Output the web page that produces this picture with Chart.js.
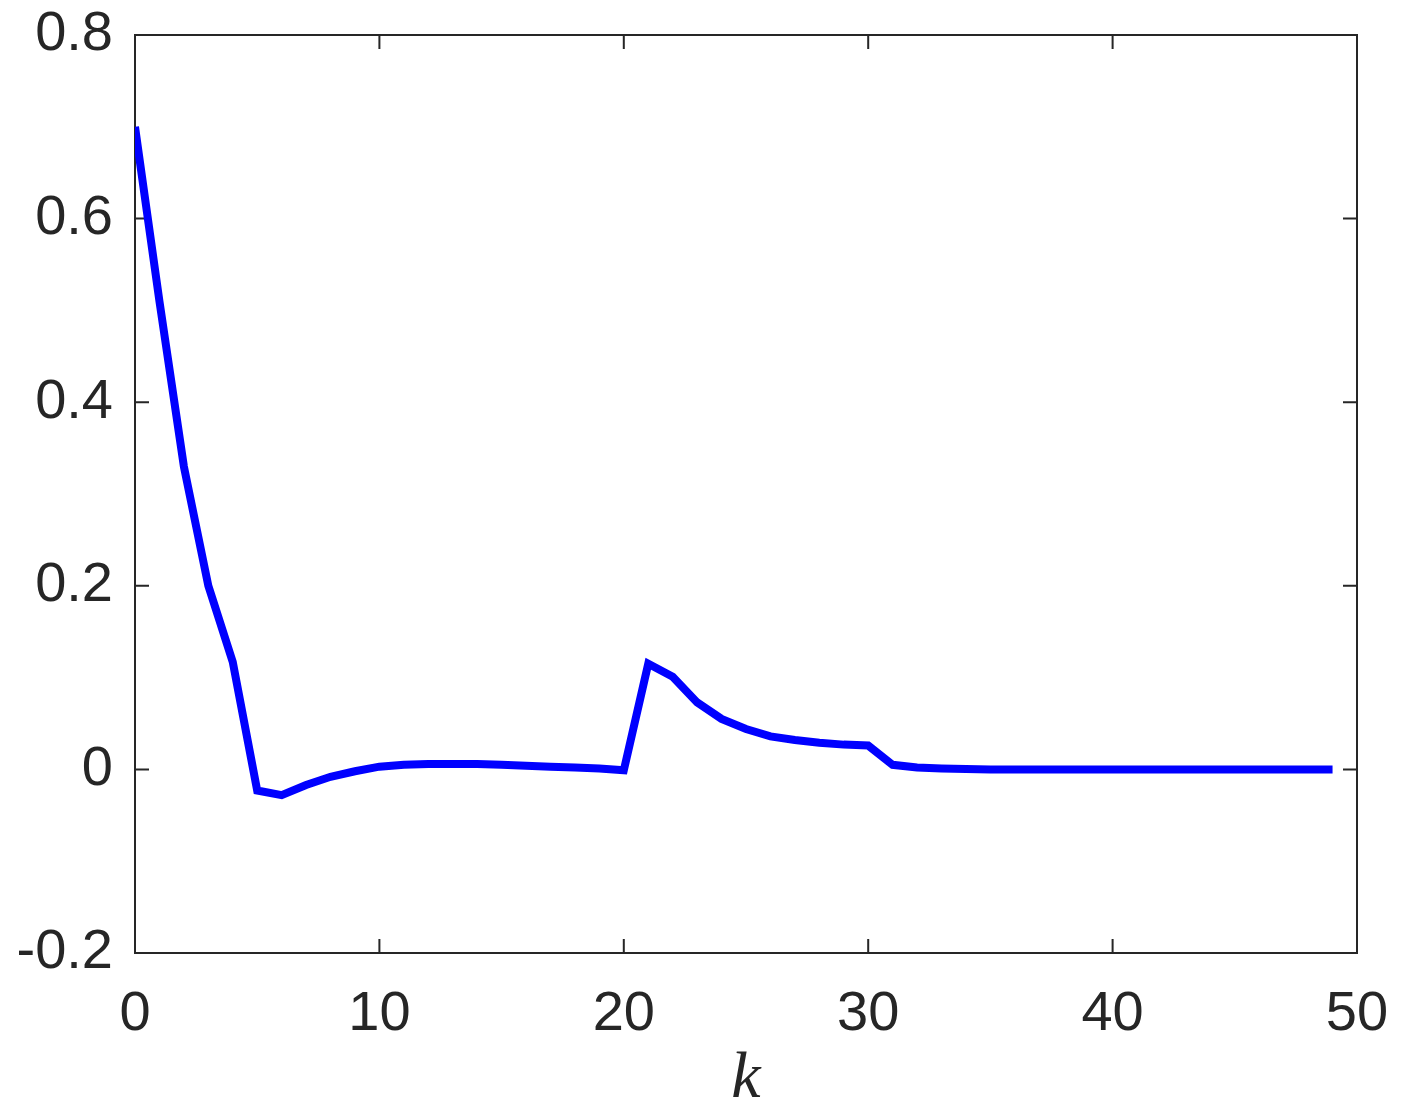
<!DOCTYPE html>
<html>
<head>
<meta charset="utf-8">
<script src="https://cdn.jsdelivr.net/npm/chart.js@4/dist/chart.umd.min.js"></script>
<style>
  html, body { margin: 0; padding: 0; background: #ffffff; }
  #wrap { width: 1413px; height: 1119px; position: relative; }
</style>
</head>
<body>
<div id="wrap"><canvas id="chart"></canvas></div>
<script>
// --- Data ---
const steps = [0, 1, 2, 3, 4, 5, 6, 7, 8, 9,
               10, 11, 12, 13, 14, 15, 16, 17, 18, 19,
               20, 21, 22, 23, 24, 25, 26, 27, 28, 29,
               30, 31, 32, 33, 34, 35, 36, 37, 38, 39,
               40, 41, 42, 43, 44, 45, 46, 47, 48, 49];
const values = [0.70, 0.51, 0.33, 0.20, 0.117, -0.023, -0.028, -0.017, -0.008, -0.002,
                0.003, 0.005, 0.006, 0.006, 0.006, 0.005, 0.004, 0.003, 0.002, 0.001,
                -0.001, 0.115, 0.101, 0.073, 0.055, 0.044, 0.036, 0.032, 0.029, 0.027,
                0.026, 0.005, 0.002, 0.001, 0.0005, 0, 0, 0, 0, 0,
                0, 0, 0, 0, 0, 0, 0, 0, 0, 0];
const xTicks = [0, 10, 20, 30, 40, 50];
const yTicks = [-0.2, 0, 0.2, 0.4, 0.6, 0.8];

const AXIS_COLOR = '#262626';
const TICK_FONT = { family: '"Liberation Sans", Arial, sans-serif', size: 56 };

// frame + inward ticks on all four sides, drawn under the line
const framePlugin = {
    id: 'frame',
    beforeDatasetsDraw(chart) {
        const { ctx, chartArea: a, scales } = chart;
        const len = 14;
        ctx.save();
        ctx.strokeStyle = AXIS_COLOR;
        ctx.lineWidth = 2;
        ctx.strokeRect(a.left, a.top, a.right - a.left, a.bottom - a.top);
        ctx.beginPath();
        xTicks.forEach(v => {
            const px = scales.x.getPixelForValue(v);
            ctx.moveTo(px, a.bottom); ctx.lineTo(px, a.bottom - len);
            ctx.moveTo(px, a.top); ctx.lineTo(px, a.top + len);
        });
        yTicks.forEach(v => {
            const py = scales.y.getPixelForValue(v);
            ctx.moveTo(a.left, py); ctx.lineTo(a.left + len, py);
            ctx.moveTo(a.right, py); ctx.lineTo(a.right - len, py);
        });
        ctx.stroke();
        ctx.restore();
    }
};

new Chart(document.getElementById('chart'), {
    type: 'line',
    data: {
        datasets: [{
            data: steps.map((k, i) => ({ x: k, y: values[i] })),
            borderColor: '#0000ff',
            borderWidth: 8,
            pointRadius: 0,
            tension: 0,
            fill: false
        }]
    },
    options: {
        responsive: true,
        maintainAspectRatio: false,
        animation: false,
        layout: { padding: { top: 35, right: 56, left: 0, bottom: 0 } },
        plugins: { legend: { display: false }, tooltip: { enabled: false } },
        scales: {
            x: {
                type: 'linear', min: 0, max: 50,
                afterBuildTicks: s => { s.ticks = xTicks.map(v => ({ value: v })); },
                afterFit: s => { s.height = 166; s.paddingLeft = 0; s.paddingRight = 0; },
                grid: { display: false, drawTicks: false },
                border: { display: false },
                ticks: { color: AXIS_COLOR, font: TICK_FONT, padding: 28, maxRotation: 0 },
                title: {
                    display: true, text: 'k', color: AXIS_COLOR,
                    font: { family: '"Liberation Serif", "DejaVu Serif", serif', size: 66, style: 'italic' },
                    padding: { top: 0, bottom: 0 }
                }
            },
            y: {
                type: 'linear', min: -0.2, max: 0.8,
                afterBuildTicks: s => { s.ticks = yTicks.map(v => ({ value: v })); },
                afterFit: s => { s.width = 135; s.paddingTop = 0; s.paddingBottom = 0; },
                grid: { display: false, drawTicks: false },
                border: { display: false },
                ticks: {
                    color: AXIS_COLOR, font: TICK_FONT, padding: 22,
                    callback: v => String(Number(v.toFixed(1)))
                }
            }
        }
    },
    plugins: [framePlugin]
});
</script>
</body>
</html>
